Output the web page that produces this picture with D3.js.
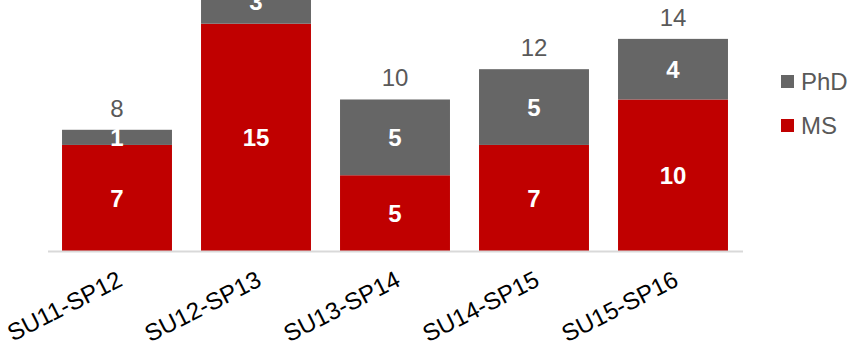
<!DOCTYPE html>
<html>
<head>
<meta charset="utf-8">
<script src="https://cdn.jsdelivr.net/npm/d3@7"></script>
<style>
  body { margin: 0; background: #fff; }
  svg { font-family: "Liberation Sans", Arial, sans-serif; }
</style>
</head>
<body>
<svg id="chart" width="850" height="345"></svg>
<script>
// data
var terms = ["SU11-SP12", "SU12-SP13", "SU13-SP14", "SU14-SP15", "SU15-SP16"];
var msCounts = [7, 15, 5, 7, 10];
var phdCounts = [1, 3, 5, 5, 4];
var seriesNames = ["MS", "PhD"];
var seriesColors = ["#c00000", "#666666"];

var rows = terms.map(function(t, i) { return { term: t, MS: msCounts[i], PhD: phdCounts[i] }; });
var stacked = d3.stack().keys(seriesNames)(rows);

var svg = d3.select("#chart");

var x = d3.scaleBand().domain(terms).range([47.5, 742.5]).paddingInner(0.209).paddingOuter(0.1045);
var y = d3.scaleLinear().domain([0, 16.5]).range([251, 1]);

// bars
var layers = svg.selectAll("g.layer")
  .data(stacked)
  .enter().append("g")
  .attr("class", "layer")
  .attr("fill", function(d, i) { return seriesColors[i]; });

layers.selectAll("rect")
  .data(function(d) { return d; })
  .enter().append("rect")
  .attr("x", function(d) { return x(d.data.term); })
  .attr("width", x.bandwidth())
  .attr("y", function(d) { return y(d[1]); })
  .attr("height", function(d) { return y(d[0]) - y(d[1]); });

// segment labels
layers.selectAll("text")
  .data(function(d) { return d; })
  .enter().append("text")
  .attr("x", function(d) { return x(d.data.term) + x.bandwidth() / 2; })
  .attr("y", function(d) { return (y(d[0]) + y(d[1])) / 2; })
  .attr("dy", "0.36em")
  .attr("text-anchor", "middle")
  .attr("fill", "#fff")
  .attr("font-weight", "bold")
  .attr("font-size", 24)
  .text(function(d) { return d[1] - d[0]; });

// totals
svg.selectAll("text.total")
  .data(rows)
  .enter().append("text")
  .attr("class", "total")
  .attr("x", function(d) { return x(d.term) + x.bandwidth() / 2; })
  .attr("y", function(d) { return y(d.MS + d.PhD) - 13; })
  .attr("text-anchor", "middle")
  .attr("fill", "#595959")
  .attr("font-size", 24)
  .text(function(d) { return d.MS + d.PhD; });

// x axis
var xAxis = svg.append("g")
  .attr("transform", "translate(0," + 251 + ")")
  .call(d3.axisBottom(x).tickSize(0).tickSizeOuter(0));
xAxis.select(".domain").attr("stroke", "#d9d9d9").attr("stroke-width", 2);
xAxis.selectAll(".tick text")
  .attr("font-family", "Liberation Sans, Arial, sans-serif")
  .attr("font-size", 24)
  .attr("fill", "#000")
  .attr("text-anchor", "end")
  .attr("y", 0)
  .attr("dy", 0)
  .attr("transform", "translate(7,34) rotate(-27)");

// legend
var legendNames = ["PhD", "MS"];
var legendColors = ["#666666", "#c00000"];
var legend = svg.selectAll("g.legend")
  .data(legendNames)
  .enter().append("g")
  .attr("class", "legend")
  .attr("transform", function(d, i) { return "translate(781," + (75 + i * 44) + ")"; });
legend.append("rect")
  .attr("width", 13).attr("height", 13)
  .attr("fill", function(d, i) { return legendColors[i]; });
legend.append("text")
  .attr("x", 20).attr("y", 6.5).attr("dy", "0.36em")
  .attr("font-size", 24)
  .attr("fill", "#595959")
  .text(function(d) { return d; });
</script>
</body>
</html>
